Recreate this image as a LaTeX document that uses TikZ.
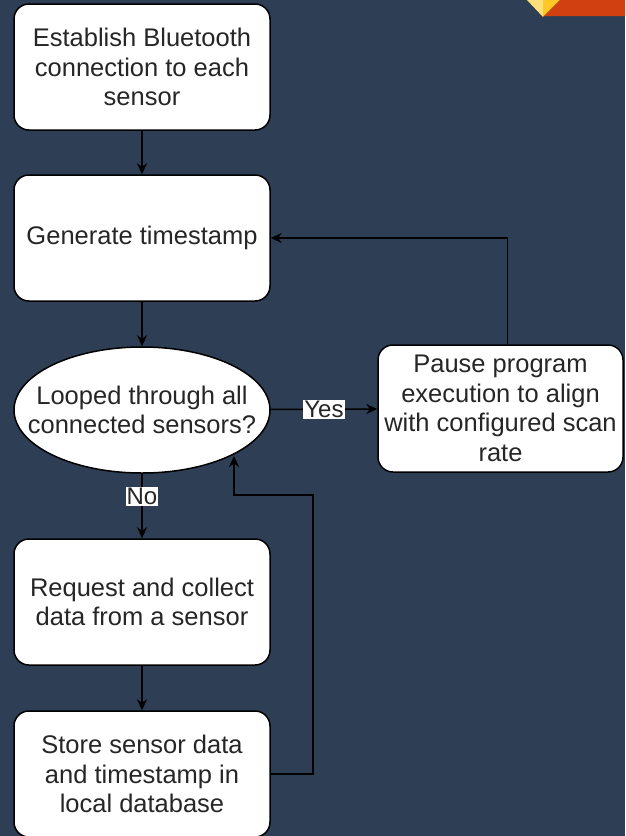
\documentclass[tikz,border=0pt]{standalone}
\usepackage{fontspec}
\setmainfont{Liberation Sans}
\usetikzlibrary{arrows.meta, shapes.geometric}
\definecolor{slide}{RGB}{46,62,84}
\definecolor{txt}{RGB}{38,38,38}
\definecolor{accent}{RGB}{208,64,16}
\definecolor{lightgold}{RGB}{255,224,122}
\definecolor{gold}{RGB}{255,200,40}

\begin{document}
\begin{tikzpicture}[x=1pt,y=-1pt,
  every node/.style={font=\fontsize{25.5}{29.5}\selectfont, text=txt, align=center},
  stepbox/.style={draw=black, fill=white, line width=1.5pt, rounded corners=15pt,
    minimum width=256pt, minimum height=126pt, inner sep=0pt},
  decide/.style={ellipse, draw=black, fill=white, line width=1.5pt,
    minimum width=256pt, minimum height=126pt, inner xsep=-30pt, inner ysep=10pt},
  flow/.style={line width=1.5pt, -{Stealth[length=11pt,width=10pt]}},
  tag/.style={fill=white, inner sep=1pt, font=\fontsize{24}{26}\selectfont}]
\useasboundingbox (0,0) rectangle (625,836);
\fill[slide] (0,0) rectangle (625,836);
% corner decoration
\fill[lightgold] (527,0) -- (543,0) -- (543,17) -- cycle;
\fill[gold] (543,0) -- (560,0) -- (543,17) -- cycle;
\fill[accent] (560,0) -- (625,0) -- (625,16) -- (543,16) -- (543,17) -- cycle;

\begin{scope}
\clip (0,0) rectangle (625,836);
\node[stepbox] (connect) at (142,67) {Establish Bluetooth\\connection to each\\sensor};
\node[stepbox] (stamp) at (142,238) {Generate timestamp};
\node[decide] (loop) at (142,410) {Looped through all\\connected sensors?};
\node[stepbox, minimum width=245pt, minimum height=127pt] (pause) at (500.5,408.5)
  {Pause program\\execution to align\\with configured scan\\rate};
\node[stepbox] (request) at (142,602) {Request and collect\\data from a sensor};
\node[stepbox] (store) at (142,774) {Store sensor data\\and timestamp in\\local database};
\end{scope}

\coordinate (loopturn) at (313,495);
\coordinate (loopin) at (234,456);

\draw[flow] (connect) -- (stamp);
\draw[flow] (stamp) -- (loop);
\draw[flow] (loop) -- node[tag] {Yes} (pause);
\draw[flow] ([xshift=7pt]pause.north) |- (stamp.east);
\draw[flow] (loop) -- node[tag, pos=0.35] {No} (request);
\draw[flow] (request) -- (store);
\draw[flow] (store.east) -| (loopturn) -| (loopin);
\end{tikzpicture}
\end{document}
